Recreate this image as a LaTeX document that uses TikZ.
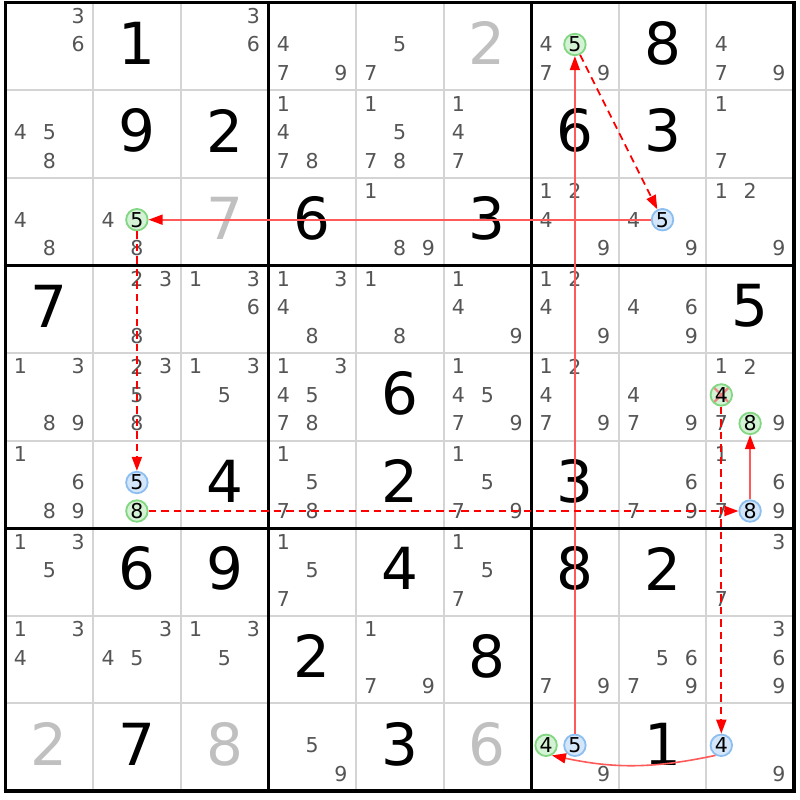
\documentclass[tikz,border=0pt]{standalone}
\usepackage{fontspec}
\newfontfamily\dvs{DejaVu Sans}
\usetikzlibrary{arrows.meta}
\definecolor{candgray}{RGB}{85,85,85}
\definecolor{givengray}{RGB}{192,192,192}
\definecolor{gridgray}{RGB}{212,212,212}
\definecolor{gfill}{RGB}{212,242,212}
\definecolor{gline}{RGB}{130,215,130}
\definecolor{bfill}{RGB}{212,230,250}
\definecolor{bline}{RGB}{140,190,240}
\definecolor{lred}{RGB}{255,90,90}
\definecolor{xred}{RGB}{240,130,130}
\def\ox{5.5}\def\oy{2.5}\def\cs{87.6}
\newcommand{\cfont}{\dvs\fontsize{20.5}{20.5}\selectfont}
\newcommand{\bfont}{\dvs\fontsize{58}{58}\selectfont}
\newcommand{\candlist}[3]{\foreach \d in {#3}{%
  \pgfmathsetmacro\cx{\ox+(#2-1)*\cs+15+28.8*mod(\d-1,3)}%
  \pgfmathsetmacro\cy{\oy+(#1-1)*\cs+13.5+28.5*div(\d-1,3)}%
  \node[cand] (k#1#2\d) at (\cx,\cy) {\d};}}
\newcommand{\circd}[5]{%
  \pgfmathsetmacro\cx{\ox+(#3-1)*\cs+15+28.8*mod(#4-1,3)}%
  \pgfmathsetmacro\cy{\oy+(#2-1)*\cs+13.5+28.5*div(#4-1,3)}%
  \node[#5] (#1) at (\cx,\cy) {#4};}
\newcommand{\bigdig}[4]{%
  \node[bigd, text=#4] (d#1#2) at ({\ox+(#2-0.5)*\cs},{\oy+(#1-1)*\cs+40.6}) {#3};}
\tikzset{
  cand/.style={inner sep=0pt, font=\cfont, text=candgray},
  bigd/.style={inner sep=0pt, font=\bfont},
  gc/.style={circle, draw=gline, fill=gfill, line width=1.8pt, minimum size=21.5pt, inner sep=0pt, font=\cfont, text=black},
  bc/.style={circle, draw=bline, fill=bfill, line width=1.8pt, minimum size=21.5pt, inner sep=0pt, font=\cfont, text=black},
  xc/.style={gc, path picture={\draw[xred, line width=2.2pt] (path picture bounding box.north west) -- (path picture bounding box.south east) (path picture bounding box.north east) -- (path picture bounding box.south west);}},
  thingrid/.style={draw=gridgray, line width=2pt},
  thickgrid/.style={draw=black, line width=3.2pt},
  solidarr/.style={draw=lred, line width=1.6pt, -{Triangle[length=14pt,width=10pt,color=red]}},
  dasharr/.style={draw=red, line width=1.8pt, dash pattern=on 7.5pt off 5pt, -{Triangle[length=14pt,width=10pt]}}
}
\begin{document}
\begin{tikzpicture}[x=1pt,y=-1pt]
\useasboundingbox (0,0) rectangle (800,800);
\fill[white] (0,0) rectangle (800,800);
% grid
\foreach \i in {1,2,4,5,7,8}{
  \draw[thingrid] ({\ox+\i*\cs},\oy) -- ({\ox+\i*\cs},{\oy+9*\cs});
  \draw[thingrid] (\ox,{\oy+\i*\cs}) -- ({\ox+9*\cs},{\oy+\i*\cs});
}
\foreach \i in {0,3,6,9}{
  \draw[thickgrid] ({\ox+\i*\cs},{\oy-1.6}) -- ({\ox+\i*\cs},{\oy+9*\cs+1.6});
  \draw[thickgrid] ({\ox-1.6},{\oy+\i*\cs}) -- ({\ox+9*\cs+1.6},{\oy+\i*\cs});
}
% big digits
\bigdig{1}{2}{1}{black}\bigdig{1}{6}{2}{givengray}\bigdig{1}{8}{8}{black}
\bigdig{2}{2}{9}{black}\bigdig{2}{3}{2}{black}\bigdig{2}{7}{6}{black}\bigdig{2}{8}{3}{black}
\bigdig{3}{3}{7}{givengray}\bigdig{3}{4}{6}{black}\bigdig{3}{6}{3}{black}
\bigdig{4}{1}{7}{black}\bigdig{4}{9}{5}{black}
\bigdig{5}{5}{6}{black}
\bigdig{6}{3}{4}{black}\bigdig{6}{5}{2}{black}\bigdig{6}{7}{3}{black}
\bigdig{7}{2}{6}{black}\bigdig{7}{3}{9}{black}\bigdig{7}{5}{4}{black}\bigdig{7}{7}{8}{black}\bigdig{7}{8}{2}{black}
\bigdig{8}{4}{2}{black}\bigdig{8}{6}{8}{black}
\bigdig{9}{1}{2}{givengray}\bigdig{9}{2}{7}{black}\bigdig{9}{3}{8}{givengray}\bigdig{9}{5}{3}{black}\bigdig{9}{6}{6}{givengray}\bigdig{9}{8}{1}{black}
% candidates
\candlist{1}{1}{3,6}\candlist{1}{3}{3,6}\candlist{1}{4}{4,7,9}\candlist{1}{5}{5,7}\candlist{1}{7}{4,7,9}\candlist{1}{9}{4,7,9}
\candlist{2}{1}{4,5,8}\candlist{2}{4}{1,4,7,8}\candlist{2}{5}{1,5,7,8}\candlist{2}{6}{1,4,7}\candlist{2}{9}{1,7}
\candlist{3}{1}{4,8}\candlist{3}{2}{4,8}\candlist{3}{5}{1,8,9}\candlist{3}{7}{1,2,4,9}\candlist{3}{8}{4,9}\candlist{3}{9}{1,2,9}
\candlist{4}{2}{2,3,8}\candlist{4}{3}{1,3,6}\candlist{4}{4}{1,3,4,8}\candlist{4}{5}{1,8}\candlist{4}{6}{1,4,9}\candlist{4}{7}{1,2,4,9}\candlist{4}{8}{4,6,9}
\candlist{5}{1}{1,3,8,9}\candlist{5}{2}{2,3,5,8}\candlist{5}{3}{1,3,5}\candlist{5}{4}{1,3,4,5,7,8}\candlist{5}{6}{1,4,5,7,9}\candlist{5}{7}{1,2,4,7,9}\candlist{5}{8}{4,7,9}\candlist{5}{9}{1,2,7,9}
\candlist{6}{1}{1,6,8,9}\candlist{6}{4}{1,5,7,8}\candlist{6}{6}{1,5,7,9}\candlist{6}{8}{6,7,9}\candlist{6}{9}{1,6,7,9}
\candlist{7}{1}{1,3,5}\candlist{7}{4}{1,5,7}\candlist{7}{6}{1,5,7}\candlist{7}{9}{3,7}
\candlist{8}{1}{1,3,4}\candlist{8}{2}{3,4,5}\candlist{8}{3}{1,3,5}\candlist{8}{5}{1,7,9}\candlist{8}{7}{7,9}\candlist{8}{8}{5,6,7,9}\candlist{8}{9}{3,6,9}
\candlist{9}{4}{5,9}\candlist{9}{7}{9}\candlist{9}{9}{9}
% circled candidates
\circd{g17}{1}{7}{5}{gc}
\circd{b38}{3}{8}{5}{bc}
\circd{g32}{3}{2}{5}{gc}
\circd{b62}{6}{2}{5}{bc}
\circd{g62}{6}{2}{8}{gc}
\circd{b69}{6}{9}{8}{bc}
\circd{g59}{5}{9}{8}{gc}
\circd{x59}{5}{9}{4}{xc}
\circd{b99}{9}{9}{4}{bc}
\circd{g97}{9}{7}{4}{gc}
\circd{b97}{9}{7}{5}{bc}
% chain
\draw[solidarr] (b97) -- (g17);
\draw[dasharr] (g17) -- (b38);
\draw[solidarr] (b38) -- (g32);
\draw[dasharr] (g32) -- (b62);
\draw[dasharr] (g62) -- (b69);
\draw[solidarr] (b69) -- (g59);
\draw[dasharr] (x59) -- (b99);
\draw[solidarr] (b99.240) to[out=192,in=-12] (g97.-60);
\end{tikzpicture}
\end{document}
